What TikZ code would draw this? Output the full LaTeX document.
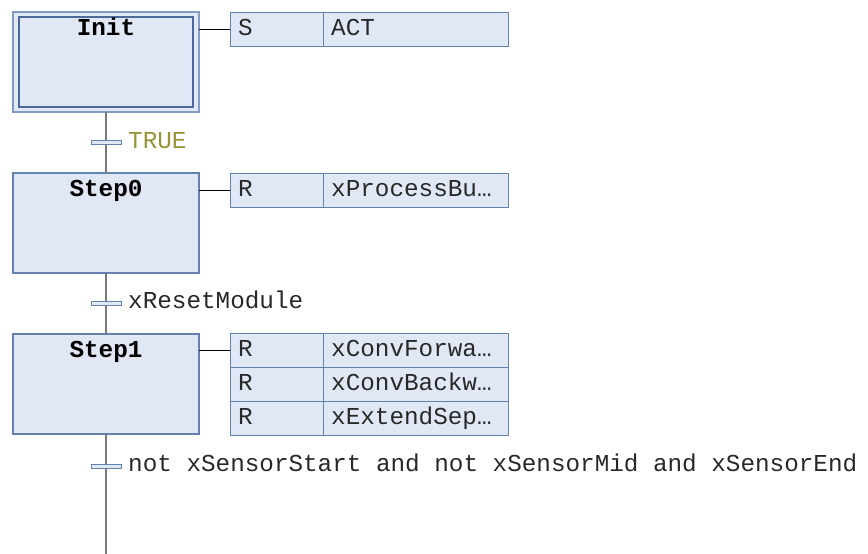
\documentclass[tikz,border=0pt]{standalone}
\usepackage{fontspec}
\setmonofont{Liberation Mono}
\definecolor{boxfill}{RGB}{225,232,245}
\definecolor{boxline}{RGB}{100,130,175}
\definecolor{innerline}{RGB}{75,105,155}
\definecolor{outerline}{RGB}{130,155,195}
\definecolor{wire}{RGB}{120,120,120}
\definecolor{olive}{RGB}{150,150,55}
\definecolor{txt}{RGB}{40,40,40}
\tikzset{
  stepbox/.style={draw=boxline, fill=boxfill, line width=1.2pt, minimum width=186pt, minimum height=100pt, inner sep=0pt, outer sep=0pt},
  initouter/.style={draw=outerline, fill=boxfill, line width=1.2pt, minimum width=186pt, minimum height=100pt, inner sep=0pt, outer sep=0pt},
  initinner/.style={draw=innerline, line width=1.2pt, minimum width=174pt, minimum height=90pt, inner sep=0pt},
  steptitle/.style={anchor=base, font=\ttfamily\bfseries\fontsize{24.3}{28}\selectfont, text=black, inner sep=0pt},
  qual/.style={draw=boxline, fill=boxfill, line width=1pt, minimum width=93pt, minimum height=34pt, inner sep=0pt, outer sep=0pt},
  aname/.style={draw=boxline, fill=boxfill, line width=1pt, minimum width=185pt, minimum height=34pt, inner sep=0pt, outer sep=0pt},
  atext/.style={anchor=base west, font=\ttfamily\fontsize{24.3}{28}\selectfont, text=txt, inner sep=0pt},
  transbar/.style={draw=boxline, fill=boxfill, line width=1pt, minimum width=30pt, minimum height=4pt, inner sep=0pt, outer sep=0pt},
  ttext/.style={anchor=base west, font=\ttfamily\fontsize{24.3}{28}\selectfont, text=txt, inner sep=0pt},
  wireline/.style={draw=wire, line width=1.6pt},
  link/.style={draw=black, line width=1pt}
}
\begin{document}
\begin{tikzpicture}[x=1pt,y=-1pt]
\useasboundingbox (0,0) rectangle (868,554);
\coordinate (endpt) at (106,554);
% steps
\node[initouter] (init) at (106,62) {};
\node[initinner] (initin) at (106,62) {};
\node[steptitle] (initt) at (106,35) {Init};
\node[stepbox] (step0) at (106,223) {};
\node[steptitle] (step0t) at (106,196) {Step0};
\node[stepbox] (step1) at (106,384) {};
\node[steptitle] (step1t) at (106,357) {Step1};
% wires
\draw[wireline] (init.south) -- (step0.north);
\draw[wireline] (step0.south) -- (step1.north);
\draw[wireline] (step1.south) -- (endpt);
% transitions
\node[transbar] (t0) at (106,142) {};
\node[ttext, text=olive] (t0t) at (128,148) {TRUE};
\node[transbar] (t1) at (106,303) {};
\node[ttext] (t1t) at (128,308) {xResetModule};
\node[transbar] (t2) at (106,466) {};
\node[ttext] (t2t) at (128,471) {not xSensorStart and not xSensorMid and xSensorEnd};
% actions Init
\node[qual] (a0q) at (276.5,29) {};
\node[aname] (a0n) at (415.5,29) {};
\node[atext] at (238,35) {S};
\node[atext] at (331,35) {ACT};
\draw[link] (a0q.west) -- (a0q.west -| init.east);
% actions Step0
\node[qual] (a1q) at (276.5,190) {};
\node[aname] (a1n) at (415.5,190) {};
\node[atext] at (238,196) {R};
\node[atext] at (331,196) {xProcessBu…};
\draw[link] (a1q.west) -- (a1q.west -| step0.east);
% actions Step1
\node[qual] (a2q) at (276.5,350) {};
\node[aname] (a2n) at (415.5,350) {};
\node[atext] at (238,356) {R};
\node[atext] at (331,356) {xConvForwa…};
\node[qual] (a3q) at (276.5,384) {};
\node[aname] (a3n) at (415.5,384) {};
\node[atext] at (238,390) {R};
\node[atext] at (331,390) {xConvBackw…};
\node[qual] (a4q) at (276.5,418) {};
\node[aname] (a4n) at (415.5,418) {};
\node[atext] at (238,424) {R};
\node[atext] at (331,424) {xExtendSep…};
\draw[link] (a2q.west) -- (a2q.west -| step1.east);
\end{tikzpicture}
\end{document}
